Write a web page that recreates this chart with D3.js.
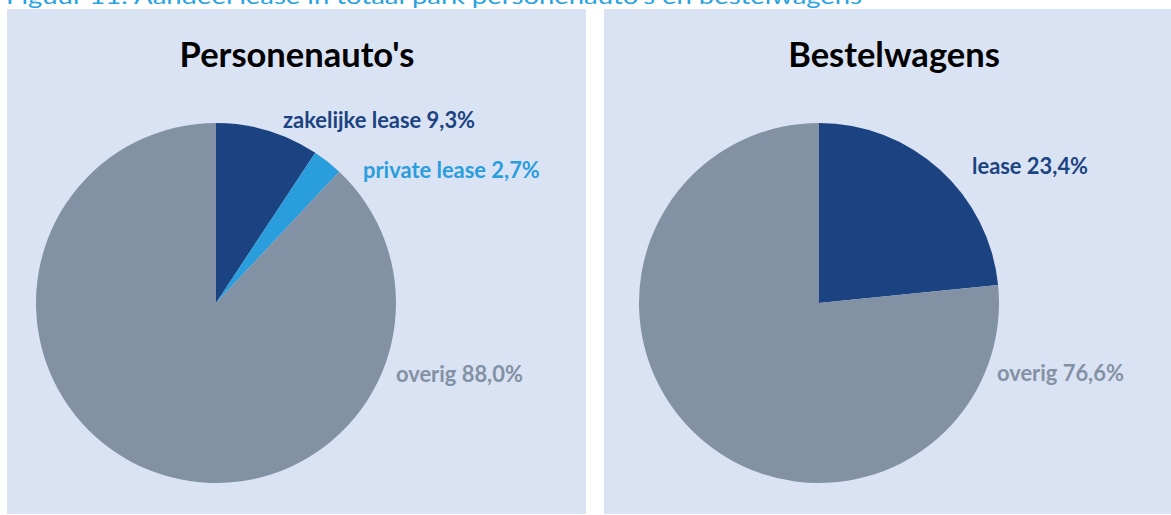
<!DOCTYPE html>
<html>
<head>
<meta charset="utf-8">
<script src="https://cdn.jsdelivr.net/npm/d3@7"></script>
<style>
  body { margin: 0; background: #fff; }
  svg { display: block; font-family: Lato, "Open Sans", sans-serif; }
</style>
</head>
<body>
<div id="chart"></div>
<script>
(function() {
  var w = 1171,
      h = 515;

  // data
  var caption = "Figuur 11: Aandeel lease in totaal park personenauto's en bestelwagens";
  var titles = ["Personenauto's", "Bestelwagens"];
  var carLabels = ["zakelijke lease", "private lease", "overig"];
  var carValues = [9.3, 2.7, 88.0];
  var vanLabels = ["lease", "overig"];
  var vanValues = [23.4, 76.6];

  var colors = { "zakelijke lease": "#1c4381", "private lease": "#2a9ddd", "lease": "#1c4381", "overig": "#8391a5" };

  var svg = d3.select("#chart")
    .append("svg")
    .attr("width", w)
    .attr("height", h);

  // caption, cut off at the top
  svg.append("text")
    .attr("x", 6)
    .attr("y", 4)
    .attr("font-size", 21)
    .attr("fill", "#29a3e0")
    .attr("textLength", 856)
    .attr("lengthAdjust", "spacingAndGlyphs")
    .text(caption);

  var panels = [
    { x: 7, width: 579, cx: 216, title: titles[0], titleX: 297,
      labels: carLabels, values: carValues,
      spots: [[283, 128], [363, 178], [396, 382]] },
    { x: 604, width: 580, cx: 819, title: titles[1], titleX: 894,
      labels: vanLabels, values: vanValues,
      spots: [[972, 174], [997, 381]] }
  ];

  var radius = 180,
      cy = 303;

  var pie = d3.pie().sort(null).value(function(d) { return d.value });
  var arc = d3.arc().innerRadius(0).outerRadius(radius);

  panels.forEach(function(p) {
    svg.append("rect")
      .attr("x", p.x)
      .attr("y", 9)
      .attr("width", p.width)
      .attr("height", 505)
      .attr("fill", "#dae3f3");

    svg.append("text")
      .attr("x", p.titleX)
      .attr("y", 67)
      .attr("text-anchor", "middle")
      .attr("font-size", 34.5)
      .attr("font-weight", "bold")
      .attr("fill", "#000")
      .text(p.title);

    var data = p.labels.map(function(l, i) {
      return { label: l, value: p.values[i] }
    });

    var g = svg.append("g")
      .attr("transform", "translate(" + p.cx + "," + cy + ")");

    g.selectAll("path")
      .data(pie(data))
      .enter().append("path")
      .attr("d", arc)
      .attr("fill", function(d) { return colors[d.data.label] });

    svg.selectAll(null)
      .data(data)
      .enter().append("text")
      .attr("x", function(d, i) { return p.spots[i][0] })
      .attr("y", function(d, i) { return p.spots[i][1] })
      .attr("font-size", 21.9)
      .attr("font-weight", "bold")
      .attr("fill", function(d) { return colors[d.label] })
      .text(function(d) { return d.label + " " + d.value.toFixed(1).replace(".", ",") + "%" });
  });
})();
</script>
</body>
</html>
